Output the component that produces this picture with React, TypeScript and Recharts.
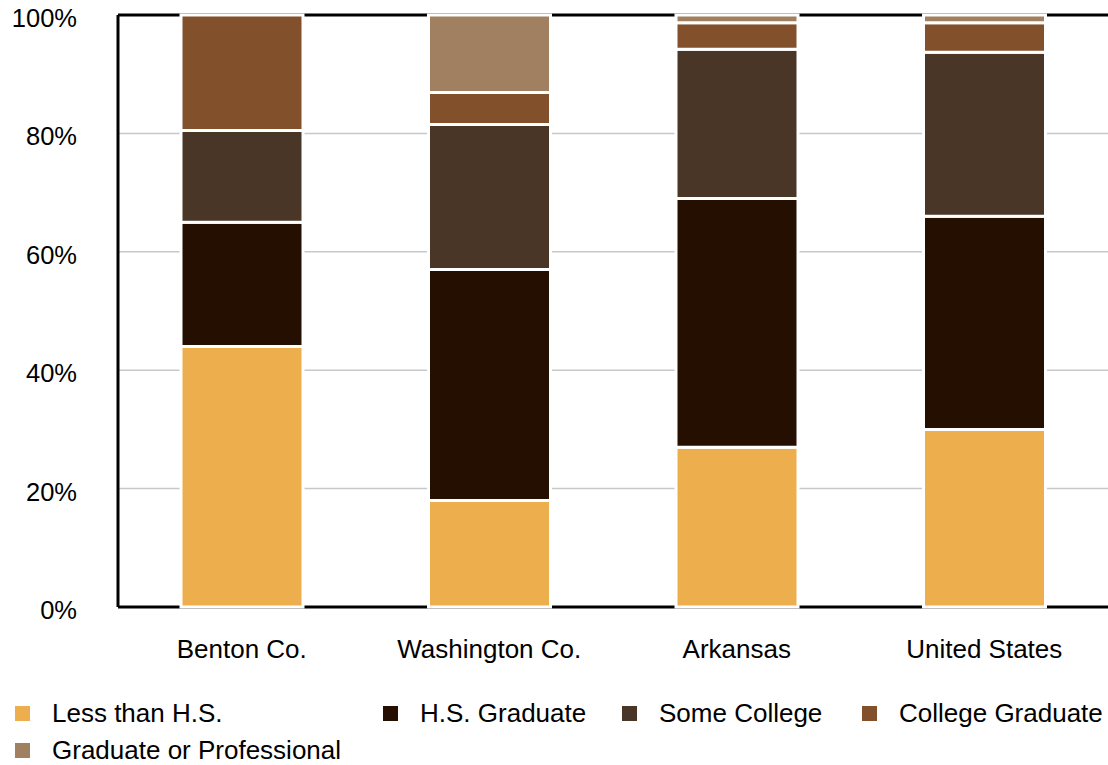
import { BarChart, Bar, XAxis, YAxis, CartesianGrid, ReferenceLine } from 'recharts';

const categories = ['Benton Co.', 'Washington Co.', 'Arkansas', 'United States'];

// share of adults by education level, percent
const lessThanHS = [44, 18, 27, 30];
const hsGraduate = [21, 39, 42, 36];
const someCollege = [15.5, 24.5, 25.2, 27.7];
const collegeGraduate = [19.5, 5.4, 4.5, 5];
const graduateProfessional = [0, 13.1, 1.3, 1.3];

const yTicks = [0, 20, 40, 60, 80, 100];

const series = [
  { key: 'lessThanHS', name: 'Less than H.S.', color: '#EDAF4D' },
  { key: 'hsGraduate', name: 'H.S. Graduate', color: '#240F00' },
  { key: 'someCollege', name: 'Some College', color: '#4A3626' },
  { key: 'collegeGraduate', name: 'College Graduate', color: '#82512C' },
  { key: 'graduateProfessional', name: 'Graduate or Professional', color: '#A08060' },
];

const data = categories.map((name, i) => ({
  name,
  lessThanHS: lessThanHS[i],
  hsGraduate: hsGraduate[i],
  someCollege: someCollege[i],
  collegeGraduate: collegeGraduate[i],
  graduateProfessional: graduateProfessional[i],
}));

const font = '"Liberation Sans", Arial, Helvetica, sans-serif';

// legend positions (left edge of the swatch) by row
const legendSpots = [
  { left: 15, top: 706 },
  { left: 383, top: 706 },
  { left: 622, top: 706 },
  { left: 862, top: 706 },
  { left: 15, top: 743 },
];

export default function App() {
  return (
    <div style={{ position: 'absolute', left: 0, top: 0, width: 1108, height: 765, background: '#fff', fontFamily: font }}>
      <BarChart
        width={1108}
        height={700}
        data={data}
        margin={{ top: 15, right: 0, left: 0, bottom: 40 }}
        barSize={122}
      >
        <CartesianGrid vertical={false} stroke="#c8c8c8" strokeWidth={1.5} />
        <XAxis
          dataKey="name"
          height={53}
          tickLine={false}
          tickSize={0}
          tickMargin={33}
          zIndex={0}
          axisLine={{ stroke: '#000', strokeWidth: 3 }}
          tick={{ fill: '#000', fontSize: 26, fontFamily: font }}
        />
        <YAxis
          width={118}
          domain={[0, 100]}
          ticks={yTicks}
          tickFormatter={(v) => `${v}%`}
          tickLine={false}
          tickSize={0}
          tickMargin={41}
          zIndex={0}
          axisLine={{ stroke: '#000', strokeWidth: 3 }}
          tick={{ fill: '#000', fontSize: 25.5, fontFamily: font, dy: 3 }}
        />
        <ReferenceLine y={100} stroke="#000" strokeWidth={3} zIndex={0} />
        {series.map((s) => (
          <Bar
            key={s.key}
            dataKey={s.key}
            name={s.name}
            stackId="a"
            fill={s.color}
            stroke="#fff"
            strokeWidth={3}
            isAnimationActive={false}
          />
        ))}
      </BarChart>
      {series.map((s, i) => (
        <div
          key={s.key}
          style={{
            position: 'absolute',
            left: legendSpots[i].left,
            top: legendSpots[i].top,
            display: 'flex',
            alignItems: 'center',
            whiteSpace: 'nowrap',
          }}
        >
          <span style={{ display: 'inline-block', width: 15, height: 15, background: s.color, marginRight: 22 }} />
          <span style={{ fontSize: 26, color: '#000', lineHeight: '15px' }}>{s.name}</span>
        </div>
      ))}
    </div>
  );
}
